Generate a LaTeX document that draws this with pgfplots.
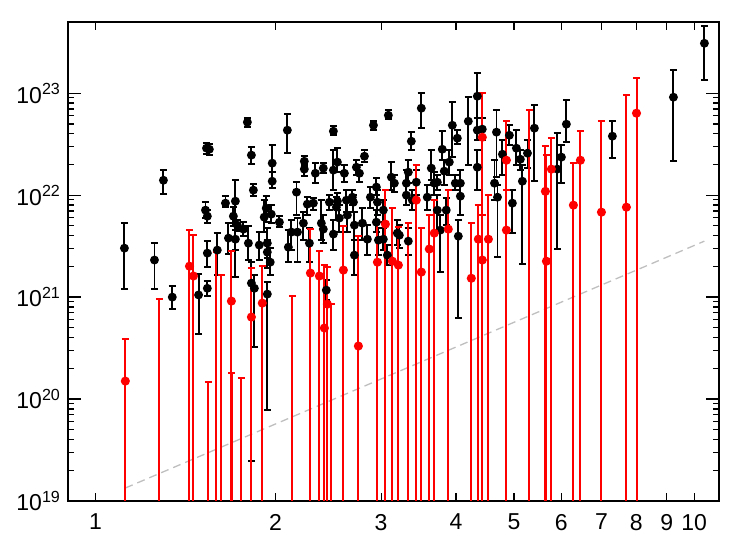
\documentclass[border=0pt]{standalone}
\usepackage{pgfplots}
\pgfplotsset{compat=1.18}
\usepackage{pgfplotstable}
\usepackage{fontspec}
\setmainfont{Liberation Sans}

\pgfplotstableread{
x y yhi ylo
1.118 3.02e21 5.31e21 1.20e21
1.255 2.31e21 3.38e21 1.20e21
1.299 1.40e22 1.76e22 1.02e22
1.344 1.00e21 1.28e21 7.62e20
1.487 1.05e21 1.68e21 4.34e20
1.527 7.13e21 8.53e21 5.96e21
1.538 6.22e21 7.13e21 5.31e21
1.533 2.89e22 3.24e22 2.52e22
1.550 2.82e22 3.16e22 2.47e22
1.538 2.70e21 3.54e21 1.97e21
1.538 1.22e21 1.43e21 1.02e21
1.598 2.89e21 4.24e21 1.64e21
1.649 8.35e21 9.77e21 7.62e21
1.668 3.79e21 5.31e21 2.64e21
1.700 6.22e21 7.62e21 4.97e21
1.713 8.73e21 1.40e22 1.57e21
1.713 3.70e21 4.54e21 2.89e21
1.726 5.08e21 5.69e21 4.44e21
1.767 4.64e21 5.43e21 3.96e21
1.801 3.38e21 4.97e21 2.31e21
1.822 2.47e22 2.96e22 2.01e22
1.794 5.20e22 5.68e22 4.64e22
1.836 1.12e22 1.28e22 9.77e21
1.822 1.37e21 2.20e21 2.47e19
1.843 1.22e21 1.64e21 3.24e20
1.878 3.24e21 4.34e21 2.31e21
1.914 6.08e21 8.93e21 4.34e21
1.929 7.46e21 9.77e21 5.43e21
1.937 3.38e21 4.75e21 2.41e21
1.937 2.76e21 3.62e21 1.92e21
1.937 1.07e21 1.40e21 7.80e19
1.959 2.20e21 3.02e21 1.64e21
1.967 6.51e21 7.98e21 5.31e21
1.974 2.06e22 3.09e22 1.40e22
1.974 1.37e22 1.68e22 1.17e22
2.029 5.43e21 6.22e21 4.85e21
2.092 4.34e22 6.22e22 2.58e22
2.100 3.09e21 4.54e21 2.20e21
2.125 4.34e21 5.69e21 2.89e21
2.167 1.07e22 1.34e22 6.37e21
2.175 4.34e21 5.96e21 2.20e21
2.225 5.31e21 6.81e21 3.62e21
2.233 2.15e22 2.41e22 1.92e22
2.233 1.80e22 2.01e22 1.53e22
2.259 8.16e21 9.55e21 6.37e21
2.277 3.38e21 4.75e21 2.20e21
2.312 8.35e21 9.35e21 7.13e21
2.330 1.64e22 2.06e22 1.31e22
2.384 5.31e21 8.93e21 3.62e21
2.402 1.84e22 2.06e22 1.64e22
2.402 4.64e21 6.37e21 3.38e21
2.430 1.17e21 1.47e21 9.35e20
2.459 8.53e21 1.00e22 7.13e21
2.497 4.24e22 4.75e22 3.87e22
2.497 1.76e22 2.76e22 1.12e22
2.497 4.15e21 5.69e21 2.89e21
2.526 7.62e21 9.55e21 5.69e21
2.536 2.11e22 2.89e22 1.68e22
2.536 8.73e21 1.05e22 7.13e21
2.555 5.96e21 7.98e21 4.34e21
2.605 1.64e22 1.97e22 1.34e22
2.625 8.93e21 1.12e22 6.81e21
2.635 6.37e21 8.93e21 4.34e21
2.686 9.55e21 1.12e22 7.98e21
2.697 8.53e21 1.00e22 6.81e21
2.707 5.08e21 6.81e21 3.62e21
2.707 2.58e21 3.62e21 1.64e21
2.728 1.88e22 2.20e22 1.57e22
2.760 1.64e22 1.97e22 1.34e22
2.792 5.31e21 7.46e21 3.62e21
2.814 2.41e22 2.76e22 2.11e22
2.846 3.70e21 5.08e21 2.58e21
2.879 9.55e21 1.20e22 7.46e21
2.913 4.85e22 5.31e22 4.34e22
2.946 1.20e22 1.47e22 1.00e22
2.958 8.53e21 1.12e22 6.37e21
2.946 5.43e21 7.13e21 4.34e21
2.969 3.62e21 4.75e21 2.58e21
3.026 7.13e21 8.93e21 5.43e21
3.026 3.70e21 4.75e21 2.89e21
3.073 2.58e21 3.24e21 2.06e21
3.085 6.08e22 6.81e22 5.56e22
3.121 1.50e22 2.11e22 1.12e22
3.157 1.31e22 1.57e22 1.07e22
3.193 4.24e21 5.69e21 3.24e21
3.218 4.05e21 5.08e21 3.02e21
3.306 1.31e22 1.76e22 1.00e22
3.306 1.00e22 1.25e22 7.98e21
3.331 1.68e22 2.20e22 1.31e22
3.331 3.54e21 4.75e21 2.58e21
3.370 3.38e22 4.15e22 2.76e22
3.383 8.93e21 1.12e22 7.13e21
3.435 1.34e22 1.76e22 1.00e22
3.502 7.13e22 1.00e23 4.54e22
3.583 9.55e21 1.25e22 7.13e21
3.639 1.84e22 2.76e22 1.40e22
3.681 1.31e22 1.68e22 1.00e22
3.724 1.34e22 1.57e22 1.12e22
3.724 7.13e21 1.00e22 4.54e21
3.767 4.54e21 6.37e21 1.76e21
3.796 2.82e22 4.24e22 2.20e22
3.825 1.72e22 2.20e22 1.25e22
3.855 7.13e21 9.35e21 5.08e21
3.900 2.11e22 2.76e22 1.57e22
3.946 4.85e22 8.16e22 2.36e22
3.991 1.31e22 1.57e22 1.12e22
4.022 3.62e22 4.34e22 3.16e22
4.037 3.96e21 5.69e21 6.22e20
4.069 1.31e22 1.76e22 1.00e22
4.069 9.77e21 1.25e22 6.37e21
4.195 5.31e22 9.14e22 1.97e22
4.343 9.35e22 1.57e23 4.44e22
4.343 4.34e22 5.68e22 3.46e22
4.343 1.88e22 2.76e22 1.12e22
4.427 4.44e22 5.68e22 3.46e22
4.640 1.31e22 2.20e22 8.93e21
4.675 4.15e22 6.81e22 1.50e22
4.693 9.55e21 1.25e22 2.47e21
4.783 2.52e22 3.46e22 1.57e22
4.913 3.87e22 4.85e22 3.09e22
4.970 8.35e21 1.12e22 4.24e21
5.047 2.89e22 4.34e22 1.97e22
5.125 2.25e22 2.76e22 1.76e22
5.165 1.37e22 1.97e22 2.11e21
5.267 2.58e22 3.46e22 1.84e22
5.409 4.54e22 7.62e22 1.37e22
5.908 1.80e22 4.05e22 2.96e21
6.001 2.36e22 3.09e22 1.31e22
6.117 4.97e22 8.53e22 3.31e22
7.301 3.79e22 5.31e22 2.31e22
9.232 9.14e22 1.68e23 2.15e22
10.40 3.09e23 4.54e23 1.34e23
}\blackdata

\pgfplotstableread{
x y yhi ylo
1.122 1.50e20 3.87e20 1e17
1.279 1e18 9.55e20 1e17
1.436 2.01e21 4.54e21 1e17
1.458 1.61e21 4.05e21 1e17
1.544 1e18 1.47e20 1e17
1.592 1e18 2.76e21 1e17
1.623 1e18 1.64e21 1e17
1.687 9.14e20 2.82e21 1e17
1.690 1e18 1.80e20 1e17
1.753 1e18 1.61e20 1e17
1.822 6.37e20 1.92e21 1e17
1.900 8.73e20 2.01e21 1e17
2.133 1e18 1.02e21 1e17
2.286 1.72e21 4.64e21 1e17
2.366 1.61e21 2.82e21 1e17
2.412 4.97e20 2.06e21 1e17
2.440 8.53e20 1.97e21 1e17
2.478 1e18 8.53e20 1e17
2.595 1.84e21 4.97e21 1e17
2.749 3.31e20 3.96e21 1e17
2.958 2.20e21 5.43e21 1e17
3.050 5.20e21 1.12e22 1e17
3.133 2.25e21 7.46e21 1e17
3.206 2.06e21 4.85e21 1e17
3.331 1e18 5.31e21 1e17
3.435 8.93e21 1.97e22 1e17
3.502 1.76e21 4.75e21 1e17
3.611 2.96e21 6.37e21 1e17
3.681 4.24e21 8.93e21 1e17
3.885 4.64e21 1.12e22 1e17
4.244 1.53e21 5.31e21 1e17
4.360 3.70e21 7.98e21 1e17
4.427 3.70e22 1.00e23 1e17
4.427 2.31e21 6.37e21 1e17
4.532 3.70e21 1.00e22 1e17
4.857 2.20e22 5.31e22 1e17
4.857 4.54e21 1.12e22 1e17
5.306 1e18 6.81e22 1e17
5.643 1.09e22 3.02e22 1e17
5.665 2.25e21 2.47e22 1e17
5.774 1.80e22 3.62e22 1e17
6.284 7.98e21 2.06e22 1e17
6.456 2.20e22 4.24e22 1e17
7.000 6.81e21 5.31e22 1e17
7.705 7.62e21 9.55e22 1e17
8.010 6.37e22 1.40e23 1e17
}\reddata

\begin{document}
\begin{tikzpicture}
\useasboundingbox (-34pt,-22pt) rectangle (336pt,250.5pt);
\begin{axis}[
  at={(0,0)}, anchor=south west,
  width=325.5pt, height=239.5pt, scale only axis,
  xmode=log, ymode=log,
  xmin=0.9, xmax=11, ymin=1e19, ymax=5e23,
  xtick={1,2,3,4,5,6,7,8,9,10},
  xticklabels={1,2,3,4,5,6,7,8,9,10},
  xminorticks=false,
  ytick={1e19,1e20,1e21,1e22,1e23},
  yticklabels={10\textsuperscript{19},10\textsuperscript{20},10\textsuperscript{21},10\textsuperscript{22},10\textsuperscript{23}},
  tick label style={font=\fontsize{11.5}{13}\selectfont},
  xticklabel style={yshift=-3pt},
  major tick length=6.3pt, minor tick length=3.2pt,
  xtick style={/pgfplots/major tick length=4.2pt},
  every tick/.style={black, line width=0.6pt},
  axis line style={line width=0.75pt},
  clip=true,
]
\addplot[black!25, line width=0.65pt, dash pattern=on 4pt off 2.5pt] coordinates {(1.122,1.34e19) (10.40,3.54e21)};

\addplot[only marks, mark=*, mark size=1.75pt, black, line width=0.9pt,
  error bars/.cd, y dir=both, y explicit,
  error bar style={line width=0.95pt, black},
  error mark options={rotate=90, mark size=1.8pt, line width=0.95pt, black}]
  table[x=x, y=y, y error plus expr=\thisrow{yhi}-\thisrow{y}, y error minus expr=\thisrow{y}-\thisrow{ylo}] {\blackdata};

\addplot[only marks, mark=*, mark size=1.75pt, red, line width=1pt,
  error bars/.cd, y dir=both, y explicit,
  error bar style={line width=1pt, red},
  error mark options={rotate=90, mark size=1.8pt, line width=1pt, red}]
  table[x=x, y=y, y error plus expr=\thisrow{yhi}-\thisrow{y}, y error minus expr=\thisrow{y}-\thisrow{ylo}] {\reddata};
\end{axis}
\end{tikzpicture}
\end{document}
